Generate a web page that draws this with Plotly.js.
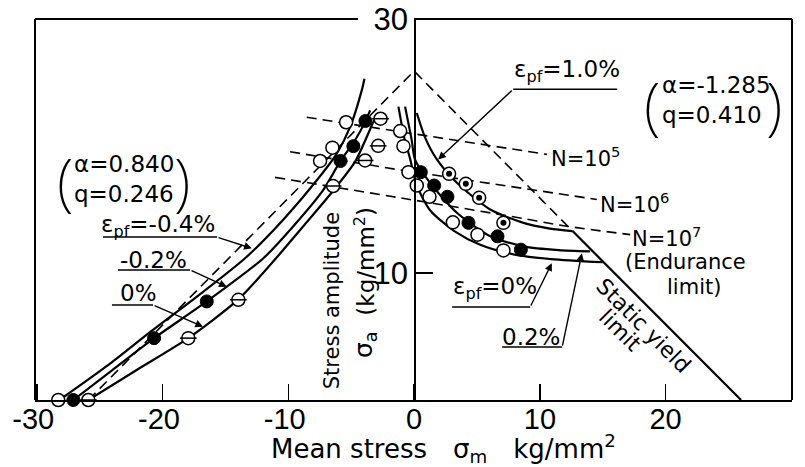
<!DOCTYPE html>
<html><head><meta charset="utf-8">
<script src="https://cdn.plot.ly/plotly-3.0.1.min.js"></script>
<style>html,body{margin:0;padding:0;background:#fff}#chart{width:805px;height:467px}</style>
</head><body><div id="chart"></div>
<script>
// ---------- ticks ----------
const xTickVals = [-30, -20, -10, 0, 10, 20, 30];
const xTickText = ['-30\u2005', '-20\u2005', '-10\u2005', '0', '10', '20', '30'];
const yTickVals = [10, 30];
const yTickText = ['10', '30'];

// ---------- curves, compressive mean stress ----------
const epsNeg04X = [-28.2, -24.4, -20.8, -16.8, -13.4, -10.5, -7.74, -6.15, -5.09, -4.16, -3.95];
const epsNeg04Y = [0, 2.7, 5.5, 8.5, 11.2, 14.1, 17.3, 19.4, 21.5, 24.4, 25.3];
const epsNeg02X = [-27.1, -24.0, -20.68, -16.49, -11.99, -9.5, -7.22, -5.89, -4.69, -3.9, -3.5];
const epsNeg02Y = [0, 2.35, 4.87, 7.76, 11.16, 13.8, 16.54, 18.77, 20.47, 21.9, 22.8];
const eps0LX = [-25.9, -22.0, -17.96, -14.0, -11.3, -8.8, -6.42, -4.69, -3.76, -3.24, -2.97];
const eps0LY = [0, 2.4, 4.87, 7.9, 10.8, 13.7, 16.5, 18.77, 20.73, 21.9, 22.4];

// ---------- curves, tensile mean stress ----------
const eps0RX = [-1.25, -0.75, -0.32, 0.21, 1.3, 3.2, 5.3, 8.0, 10.9, 15.0];
const eps0RY = [23.1, 20.5, 19.0, 16.9, 14.9, 13.3, 12.2, 11.45, 11.1, 10.85];
const eps02X = [-0.72, -0.2, 0.08, 1.27, 3.4, 6.05, 8.7, 11.5, 14.0];
const eps02Y = [23.1, 20.5, 18.9, 17.1, 14.74, 12.89, 12.1, 11.8, 11.7];
const eps10X = [0.21, 0.9, 1.81, 3.4, 6.05, 8.7, 10.8, 12.6];
const eps10Y = [22.6, 20.6, 18.94, 17.1, 15.0, 13.95, 13.5, 13.3];

// ---------- straight reference lines ----------
const goodmanX = [-25.9, 0, 12.6];
const goodmanY = [0, 25.9, 13.3];
const staticYieldX = [12.6, 26.0];
const staticYieldY = [13.3, 0];

// ---------- constant life lines ----------
const n5X = [-8.54, -1.11, 10.56];
const n5Y = [22.26, 21.13, 19.34];
const n6X = [-9.86, -1.11, 14.53];
const n6Y = [19.55, 18.11, 15.79];
const n7X = [-11.06, -1.38, 7.64, 12.15, 17.18];
const n7Y = [17.53, 15.96, 14.47, 13.68, 13.02];

// ---------- test points ----------
const dblCircleX = [-28.3, -7.48, -6.5, -5.41];          // double circle
const dblCircleY = [0, 18.82, 19.87, 21.87];
const filledX = [-27.1, -20.68, -16.49, -5.85, -4.83, -3.87, 0.53, 1.59, 2.65, 4.32, 6.63, 8.49];
const filledY = [0, 4.87, 7.76, 18.82, 19.99, 21.97, 17.94, 16.89, 16.0, 13.95, 12.89, 11.84];
const barCircleX = [-25.91, -17.96, -13.98, -6.44, -3.9, -2.86, -2.67]; // circle with bar
const barCircleY = [0, 4.87, 7.89, 16.85, 18.86, 20.01, 22.15];
const openX = [-1.11, -0.85, -0.45, 0.21, 1.22, 3.08, 5.04, 7.10];
const openY = [21.18, 19.99, 17.94, 16.89, 16.0, 13.99, 13.02, 11.78];
const dotCircleX = [2.78, 4.11, 5.17, 7.10];              // circle with dot
const dotCircleY = [17.81, 17.02, 15.92, 13.95];

// ---------- text ----------
const txtAlphaL = '\u03b1=0.840<br>q=0.246';
const txtAlphaR = '\u03b1=-1.285<br>q=0.410';
const txtEps10 = '\u03b5<sub>pf</sub>=1.0%';
const txtEpsN04 = '\u03b5<sub>pf</sub>=-0.4%';
const txtEpsN02 = '-0.2%';
const txtEps0L = '0%';
const txtEps0R = '\u03b5<sub>pf</sub>=0%';
const txtEps02 = '0.2%';
const txtN5 = 'N=10<sup>5</sup>';
const txtN6 = 'N=10<sup>6</sup>';
const txtN7 = 'N=10<sup>7</sup>';
const txtEnd1 = '(Endurance';
const txtEnd2 = 'limit)';
const txtStatic1 = 'Static yield';
const txtStatic2 = 'limit';
const txtYT1 = 'Stress amplitude';
const txtYT2 = '(kg/mm<sup>2</sup>)';
const txtYT3 = '\u03c3<sub>a</sub>';
const txtXT = 'Mean stress\u2003\u03c3<sub>m</sub>\u2003kg/mm<sup>2</sup>';

const FONT = 'DejaVu Sans, Liberation Sans, sans-serif';
const TICKFONT = 'Liberation Sans, Arial, sans-serif';
const PARENFONT = 'Noto Sans, DejaVu Sans, sans-serif';
const K = '#000';

function curve(x, y, w, dash) {
  return {type: 'scatter', mode: 'lines', x: x, y: y, hoverinfo: 'skip', showlegend: false,
    line: {color: K, width: w, dash: dash || 'solid', shape: 'spline', smoothing: 0.7}};
}
function straight(x, y, w, dash) {
  return {type: 'scatter', mode: 'lines', x: x, y: y, hoverinfo: 'skip', showlegend: false,
    line: {color: K, width: w, dash: dash || 'solid'}};
}
function pts(x, y, symbol, size, fill, lw) {
  return {type: 'scatter', mode: 'markers', x: x, y: y, hoverinfo: 'skip', showlegend: false, cliponaxis: false,
    marker: {symbol: symbol, size: size, color: fill, line: {color: K, width: lw}}};
}

const DASH = '10px,6px';
const traces = [
  straight(goodmanX, goodmanY, 1.6, DASH),
  straight(n5X, n5Y, 1.6, DASH),
  straight(n6X, n6Y, 1.6, DASH),
  curve(n7X, n7Y, 1.6, DASH),
  straight(staticYieldX, staticYieldY, 2.2),
  curve(epsNeg04X, epsNeg04Y, 2.2),
  curve(epsNeg02X, epsNeg02Y, 2.2),
  curve(eps0LX, eps0LY, 2.2),
  curve(eps0RX, eps0RY, 2.2),
  curve(eps02X, eps02Y, 2.2),
  curve(eps10X, eps10Y, 2.2),
  pts(dblCircleX, dblCircleY, 'circle', 13, '#fff', 1.5),
  pts(dblCircleX, dblCircleY, 'circle-open', 6, '#fff', 1.3),
  pts(filledX, filledY, 'circle', 13, K, 1),
  pts(barCircleX, barCircleY, 'circle', 13, '#fff', 1.5),
  pts(barCircleX, barCircleY, 'line-ew', 12, K, 1.5),
  pts(openX, openY, 'circle', 13, '#fff', 1.5),
  pts(dotCircleX, dotCircleY, 'circle', 13, '#fff', 1.5),
  pts(dotCircleX, dotCircleY, 'circle', 6, K, 0)
];

function txt(x, y, text, size, extra) {
  return Object.assign({x: x, y: y, xref: 'x', yref: 'y', text: text, showarrow: false,
    font: {family: FONT, size: size, color: K}}, extra || {});
}
function paren(x, y, ch) {
  return {x: x, y: y, xref: 'x', yref: 'y', text: ch, showarrow: false,
    font: {family: PARENFONT, size: 62, color: K, weight: 200}};
}
function arrow(x, y, ax, ay) {
  return {x: x, y: y, ax: ax, ay: ay, xref: 'x', yref: 'y', axref: 'x', ayref: 'y', text: '',
    showarrow: true, arrowhead: 2, arrowsize: 1.1, arrowwidth: 1.4, arrowcolor: K, standoff: 0};
}
function uline(x0, x1, y) {
  return {type: 'line', xref: 'x', yref: 'y', x0: x0, x1: x1, y0: y, y1: y, line: {color: K, width: 1.6}};
}

const annotations = [
  txt(-27.21, 17.44, txtAlphaL, 23, {xanchor: 'left', align: 'left'}),
  paren(-27.8, 17.3, '('),
  paren(-18.45, 17.3, ')'),
  txt(19.57, 23.66, txtAlphaR, 23, {xanchor: 'left', align: 'left'}),
  paren(18.93, 23.3, '('),
  paren(28.6, 23.3, ')'),
  txt(12.17, 25.9, txtEps10, 23),
  arrow(1.91, 18.94, 7.88, 24.47),
  txt(-20.37, 13.7, txtEpsN04, 23),
  arrow(-12.91, 11.94, -15.67, 12.83),
  txt(-20.76, 11.02, txtEpsN02, 23),
  arrow(-14.9, 8.92, -17.82, 10.24),
  txt(-21.92, 8.43, txtEps0L, 23),
  arrow(-16.79, 5.77, -20.76, 7.48),
  txt(6.44, 8.82, txtEps0R, 23),
  arrow(10.95, 10.77, 9.23, 7.32),
  txt(9.31, 4.96, txtEps02, 23),
  arrow(13.34, 11.55, 11.77, 4.17),
  txt(13.6, 19.13, txtN5, 21),
  txt(17.54, 15.51, txtN6, 21),
  txt(20.05, 12.83, txtN7, 21),
  txt(21.56, 10.87, txtEnd1, 21),
  txt(22.28, 8.9, txtEnd2, 21),
  txt(18.22, 5.85, txtStatic1, 22, {textangle: 45}),
  txt(16.4, 5.5, txtStatic2, 22, {textangle: 45}),
  txt(-6.52, 7.79, txtYT1, 21, {textangle: -90}),
  txt(-3.98, 10.9, txtYT2, 23, {textangle: -90}),
  txt(-3.9, 4.33, txtYT3, 25, {textangle: -90}),
  {x: 0.540, y: -0.128, xref: 'paper', yref: 'paper', xanchor: 'center', yanchor: 'middle',
   text: txtXT, showarrow: false, font: {family: FONT, size: 26, color: K}}
];

const shapes = [
  {type: 'line', xref: 'paper', yref: 'paper', x0: 0, x1: 0, y0: 0, y1: 1, line: {color: K, width: 2}},
  {type: 'line', xref: 'paper', yref: 'paper', x0: 1, x1: 1, y0: 0, y1: 1, line: {color: K, width: 2}},
  {type: 'line', xref: 'paper', yref: 'paper', x0: 0, x1: 0.4267, y0: 1, y1: 1, line: {color: K, width: 2}},
  {type: 'line', xref: 'paper', yref: 'paper', x0: 0.5007, x1: 1, y0: 1, y1: 1, line: {color: K, width: 2}},
  uline(7.88, 16.15, 24.47),
  uline(-24.74, -15.67, 12.83),
  uline(-23.55, -17.82, 10.24),
  uline(-24.03, -20.76, 7.48),
  uline(3.02, 9.23, 7.32),
  uline(7.0, 11.77, 4.17)
];

const layout = {
  width: 805, height: 467,
  margin: {l: 35, r: 13, t: 19, b: 67},
  paper_bgcolor: '#fff', plot_bgcolor: '#fff',
  showlegend: false,
  font: {family: FONT, color: K},
  xaxis: {range: [-30.15, 30.05], tickvals: xTickVals, ticktext: xTickText, ticks: 'inside',
    ticklen: 16, tickwidth: 1.6, tickcolor: K, showline: true, linecolor: K, linewidth: 2,
    ticklabelstandoff: -8,
    showgrid: false, zeroline: false, tickfont: {family: TICKFONT, size: 29, color: K}, fixedrange: true},
  yaxis: {range: [0, 30], anchor: 'free', position: 30.15 / 60.2, tickvals: yTickVals, ticktext: yTickText,
    ticks: 'inside', ticklen: 17, tickwidth: 1.6, tickcolor: K, showline: true, linecolor: K, linewidth: 1.6,
    showgrid: false, zeroline: false, tickfont: {family: TICKFONT, size: 31, color: K}, fixedrange: true},
  annotations: annotations,
  shapes: shapes
};

Plotly.newPlot('chart', traces, layout, {staticPlot: true, displayModeBar: false});
</script></body></html>
